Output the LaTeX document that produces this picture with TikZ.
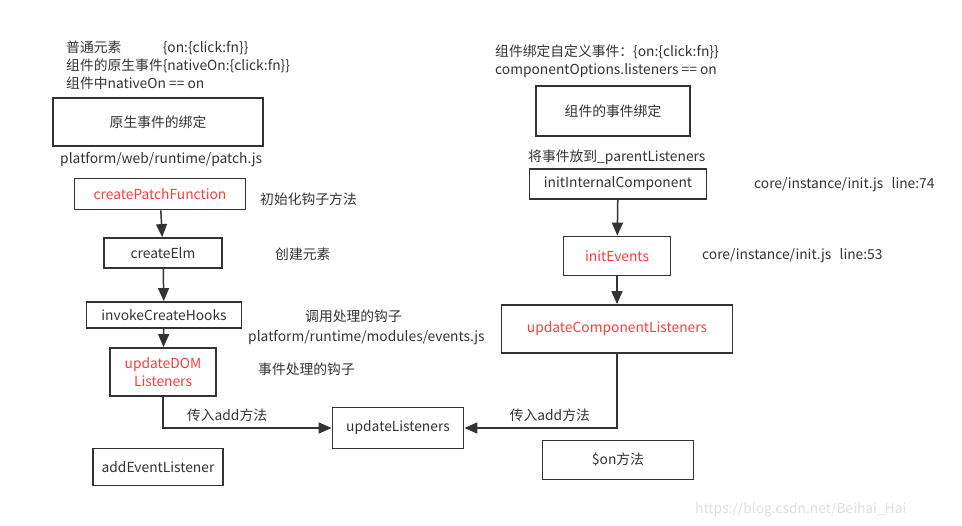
\documentclass[tikz,border=0pt]{standalone}
\usepackage{fontspec}
\setmainfont{Noto Sans CJK SC}
\usetikzlibrary{arrows.meta}
\definecolor{txt}{HTML}{333333}
\definecolor{hot}{HTML}{FF3B3B}
\begin{document}
\begin{tikzpicture}[x=1pt,y=-1pt,
    font=\fontsize{13.8}{18}\selectfont, text=txt,
    box/.style={draw=txt, line width=1.8pt, inner sep=0pt, align=center},
    note/.style={anchor=west, inner sep=0pt, align=left},
    flow/.style={draw=txt, line width=1.5pt, -{Triangle[length=13pt,width=11pt]}}]
\useasboundingbox (0,0) rectangle (962,526);

% 1. Partie gauche : evenements natifs
\node[note] (natif) at (66,65) {普通元素\hspace{3em}\{on:\{click:fn\}\}\\组件的原生事件\{nativeOn:\{click:fn\}\}\\组件中nativeOn == on};
\node[box, minimum width=210pt, minimum height=48pt] (bind) at (158,122) {原生事件的绑定};
\node[note] (patch) at (60,160) {platform/web/runtime/patch.js};
\node[box, minimum width=171pt, minimum height=31pt, text=hot] (cpf) at (160,194) {createPatchFunction};
\node[box, minimum width=118pt, minimum height=30pt] (elm) at (163,253) {createElm};
\node[box, minimum width=155pt, minimum height=26pt] (hooks) at (164,315) {invokeCreateHooks};
\node[box, minimum width=106pt, minimum height=48pt, text=hot] (dom) at (163,372) {updateDOM\\Listeners};
\node[box, minimum width=130pt, minimum height=37pt] (ael) at (158,467) {addEventListener};

% 2. Commentaires a droite des boites
\node[note] at (260,199) {初始化钩子方法};
\node[note] at (275,254) {创建元素};
\node[note] at (305,316) {调用处理的钩子};
\node[note] at (248,338) {platform/runtime/modules/events.js};
\node[note] at (258,369) {事件处理的钩子};

% 3. Partie droite : evenements du composant
\node[note] (custom) at (495,61) {组件绑定自定义事件：\{on:\{click:fn\}\}\\componentOptions.listeners == on};
\node[box, minimum width=154pt, minimum height=50pt] (cbind) at (613,111) {组件的事件绑定};
\node[note] (parent) at (528,157) {将事件放到\_parentListeners};
\node[box, minimum width=177pt, minimum height=30pt] (iic) at (618,184) {initInternalComponent};
\node[box, minimum width=107pt, minimum height=39pt, text=hot] (ie) at (617,256) {initEvents};
\node[box, minimum width=231pt, minimum height=48pt, text=hot] (ucl) at (617,329) {updateComponentListeners};
\node[box, minimum width=151pt, minimum height=39pt] (son) at (618,460) {\$on方法};
\node[note] at (754,185) {core/instance/init.js\hspace{0.6em}line:74};
\node[note] at (702,256) {core/instance/init.js\hspace{0.6em}line:53};

% 4. Boite centrale
\node[box, minimum width=131pt, minimum height=41pt] (ul) at (398,428) {updateListeners};

% 5. Fleches
\draw[flow] (cpf) -- (elm);
\draw[flow] (elm) -- (hooks);
\draw[flow] (hooks) -- (dom);
\draw[flow] (dom.south) |- node[pos=0.69, above=2pt] {传入add方法} (ul.west);
\draw[flow] (iic) -- (ie);
\draw[flow] (ie) -- (ucl);
\draw[flow] (ucl.south) |- node[pos=0.72, above=2pt] {传入add方法} (ul.east);

% 6. Filigrane
\node[note, text=black!12] at (695,510) {https://blog.csdn.net/Beihai\_Hai};
\end{tikzpicture}
\end{document}
